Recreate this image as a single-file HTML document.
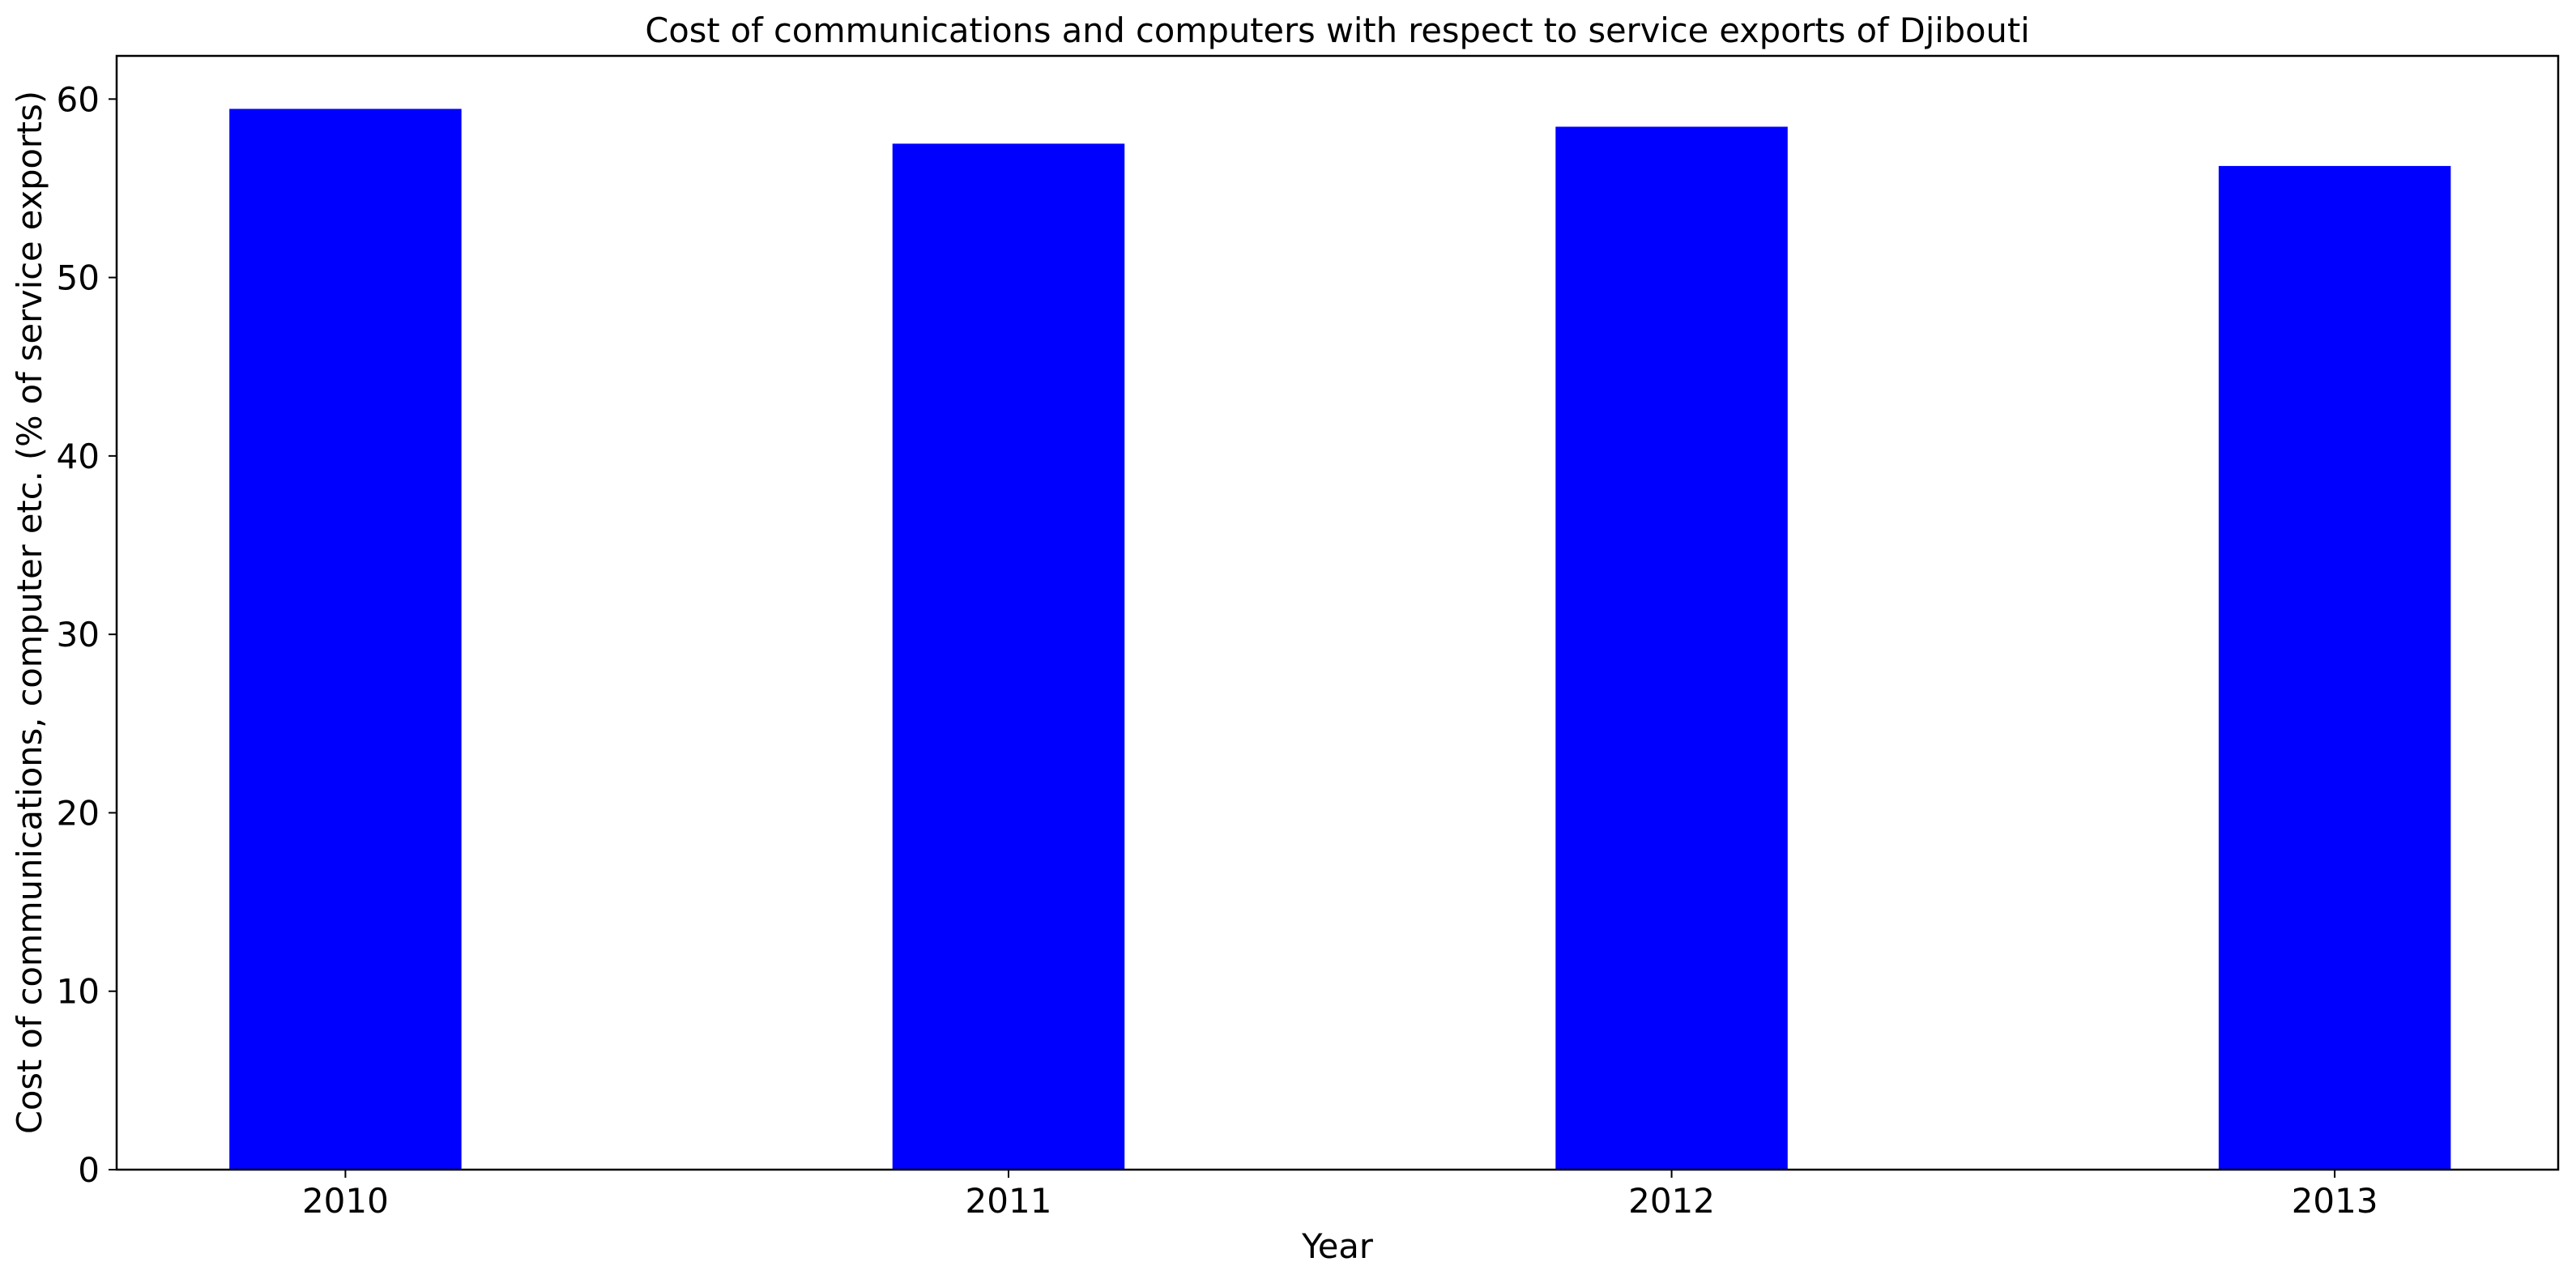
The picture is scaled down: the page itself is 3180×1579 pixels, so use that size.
<!DOCTYPE html>
<html><head><meta charset="utf-8"><style>
html,body{margin:0;padding:0;background:#fff;}
svg{display:block;font-family:"DejaVu Sans","Liberation Sans",sans-serif;}
</style></head><body>
<svg id="chart" width="3180" height="1579" viewBox="0 0 3180 1579" xmlns="http://www.w3.org/2000/svg">
<rect width="3180" height="1579" fill="#fff"/>
<text x="1651" y="52" font-size="41.5" text-anchor="middle">Cost of communications and computers with respect to service exports of Djibouti</text>
<text x="1651" y="1553" font-size="41.5" text-anchor="middle">Year</text>
<text transform="translate(51,756) rotate(-90)" font-size="41.5" text-anchor="middle">Cost of communications, computer etc. (% of service exports)</text>
<g id="bars"></g>
<g id="axes"></g>
</svg>
<script>
const categories = ["2010", "2011", "2012", "2013"];
const values = [59.45, 57.5, 58.45, 56.25];
const yTicks = [0, 10, 20, 30, 40, 50, 60];

const L = 144, R = 3158, T = 69, B = 1444;
const yMax = 62.42;
const xMin = -0.345, xMax = 3.337;
function xs(i){ return L + (i - xMin) / (xMax - xMin) * (R - L); }
function ys(v){ return B - v / yMax * (B - T); }
const NS = "http://www.w3.org/2000/svg";
const barW = 0.35;
const bars = document.getElementById('bars');
const axes = document.getElementById('axes');

categories.forEach((c, i) => {
  const r = document.createElementNS(NS, 'rect');
  
  
  r.setAttribute('x', xs(i - barW/2));
  r.setAttribute('width', xs(i + barW/2) - xs(i - barW/2));
  r.setAttribute('y', ys(values[i]));
  r.setAttribute('height', B - ys(values[i]));
  r.setAttribute('fill', '#0000ff');
  bars.appendChild(r);
  const t = document.createElementNS(NS, 'line');
  
  
  t.setAttribute('x1', xs(i)); t.setAttribute('x2', xs(i));
  t.setAttribute('y1', B); t.setAttribute('y2', B + 10);
  t.setAttribute('stroke', '#000'); t.setAttribute('stroke-width', '2');
  axes.appendChild(t);
  const l = document.createElementNS(NS, 'text');
  
  
  l.setAttribute('x', xs(i)); l.setAttribute('y', 1497);
  l.setAttribute('font-size', '42'); l.setAttribute('text-anchor', 'middle');
  l.textContent = c;
  axes.appendChild(l);
});

yTicks.forEach(v => {
  const t = document.createElementNS(NS, 'line');
  
  
  t.setAttribute('x1', L - 10); t.setAttribute('x2', L);
  t.setAttribute('y1', ys(v)); t.setAttribute('y2', ys(v));
  t.setAttribute('stroke', '#000'); t.setAttribute('stroke-width', '2');
  axes.appendChild(t);
  const l = document.createElementNS(NS, 'text');
  
  
  l.setAttribute('x', 123); l.setAttribute('y', ys(v) + 15);
  l.setAttribute('font-size', '42'); l.setAttribute('text-anchor', 'end');
  l.textContent = v;
  axes.appendChild(l);
});

const frame = document.createElementNS(NS, 'rect');


frame.setAttribute('x', L); frame.setAttribute('y', T);
frame.setAttribute('width', R - L); frame.setAttribute('height', B - T);
frame.setAttribute('fill', 'none'); frame.setAttribute('stroke', '#000'); frame.setAttribute('stroke-width', '2.5');
axes.appendChild(frame);
</script>
</body></html>
